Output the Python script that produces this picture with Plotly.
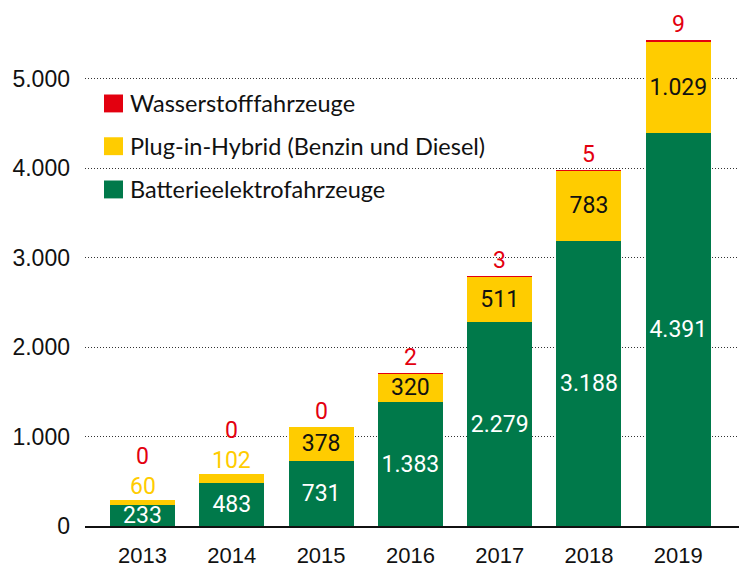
import plotly.graph_objects as go

# Neuzulassungen nach Antriebsart (Anzahl je Jahr)
years = ["2013", "2014", "2015", "2016", "2017", "2018", "2019"]
batterie = [233, 483, 731, 1383, 2279, 3188, 4391]
plugin = [60, 102, 378, 320, 511, 783, 1029]
wasserstoff = [0, 0, 0, 2, 3, 5, 9]

series_names = [
    "Batterieelektrofahrzeuge",
    "Plug-in-Hybrid (Benzin und Diesel)",
    "Wasserstofffahrzeuge",
]
series_colors = ["#00794A", "#FFCC00", "#E3000F"]

y_tickvals = [0, 1000, 2000, 3000, 4000, 5000]


def de(v):
    """German thousands separator."""
    return f"{v:,}".replace(",", ".")


W, H = 739, 568
M_L, M_R, M_T, M_B = 85, 0, 9, 39
PLOT_W = W - M_L - M_R
PLOT_H = H - M_T - M_B
PX_PER_UNIT = 0.09  # 90 px per 1.000
Y_MAX = PLOT_H / PX_PER_UNIT

LABEL_FONT = "Roboto"
LABEL_SIZE = 23
AXIS_FONT = "Liberation Sans"
LEGEND_FONT = "Lato"

# labels of the yellow segments go above the bar when the segment is too thin
MIN_INSIDE = 250
plugin_inside = [v >= MIN_INSIDE for v in plugin]

fig = go.Figure()

fig.add_trace(go.Bar(
    x=years, y=batterie, name=series_names[0],
    marker=dict(color=series_colors[0], line=dict(width=0)),
    text=[de(v) for v in batterie],
    textposition="inside", insidetextanchor="middle", constraintext="none",
    textfont=dict(family=LABEL_FONT, size=LABEL_SIZE, color="white"),
    showlegend=False, hoverinfo="skip",
))
fig.add_trace(go.Bar(
    x=years, y=plugin, name=series_names[1],
    marker=dict(color=series_colors[1], line=dict(width=0)),
    text=[de(v) if ins else "" for v, ins in zip(plugin, plugin_inside)],
    textposition="inside", insidetextanchor="middle", constraintext="none",
    textfont=dict(family=LABEL_FONT, size=LABEL_SIZE, color="#111111"),
    showlegend=False, hoverinfo="skip",
))
fig.add_trace(go.Bar(
    x=years, y=wasserstoff, name=series_names[2],
    marker=dict(color=series_colors[2], line=dict(width=0)),
    showlegend=False, hoverinfo="skip",
))

annotations = []
for i, (b, p, w, ins) in enumerate(zip(batterie, plugin, wasserstoff, plugin_inside)):
    top = b + p + w
    extra = 0
    if not ins:
        annotations.append(dict(
            x=i, y=top, xref="x", yref="y", text=de(p),
            showarrow=False, yanchor="bottom", yshift=-2,
            font=dict(family=LABEL_FONT, size=LABEL_SIZE, color=series_colors[1]),
        ))
        extra = 28
    annotations.append(dict(
        x=i, y=top, xref="x", yref="y", text=de(w),
        showarrow=False, yanchor="bottom", yshift=0 + extra,
        font=dict(family=LABEL_FONT, size=LABEL_SIZE, color=series_colors[2]),
    ))


def px_x(x):
    return (x - M_L) / PLOT_W


def px_y(y):
    return (H - M_B - y) / PLOT_H


# legend: red, yellow, green from top to bottom
shapes = []
legend_rows = [(series_names[2], series_colors[2], 104),
               (series_names[1], series_colors[1], 147),
               (series_names[0], series_colors[0], 190.5)]
for name, color, cy in legend_rows:
    shapes.append(dict(
        type="rect", xref="paper", yref="paper",
        x0=px_x(104), x1=px_x(123), y0=px_y(cy + 9), y1=px_y(cy - 9),
        fillcolor=color, line=dict(width=0), layer="above",
    ))
    annotations.append(dict(
        x=px_x(128), y=px_y(cy), xref="paper", yref="paper",
        text=name, showarrow=False, xanchor="left", yanchor="middle",
        font=dict(family=LEGEND_FONT, size=23.5, color="#111111"),
    ))

fig.update_layout(
    width=W, height=H,
    margin=dict(l=M_L, r=M_R, t=M_T, b=M_B, pad=0),
    paper_bgcolor="white", plot_bgcolor="white",
    barmode="stack", bargap=0.272,
    annotations=annotations, shapes=shapes,
    showlegend=False,
)
fig.update_xaxes(
    type="category", range=[-0.644, 6.68],
    showgrid=False, zeroline=False,
    showline=True, linecolor="#111111", linewidth=2,
    ticks="", ticklabelstandoff=9,
    tickfont=dict(family=AXIS_FONT, size=22, color="#111111"),
    fixedrange=True,
)
fig.update_yaxes(
    range=[0, Y_MAX],
    tickvals=y_tickvals, ticktext=[de(v) for v in y_tickvals],
    showgrid=True, gridcolor="#333333", gridwidth=1, griddash="1px,2px",
    zeroline=False, showline=False, ticks="", ticklabelstandoff=14,
    tickfont=dict(family=AXIS_FONT, size=23, color="#111111"),
    fixedrange=True,
)

fig.write_html("out.html", config={"displayModeBar": False})
